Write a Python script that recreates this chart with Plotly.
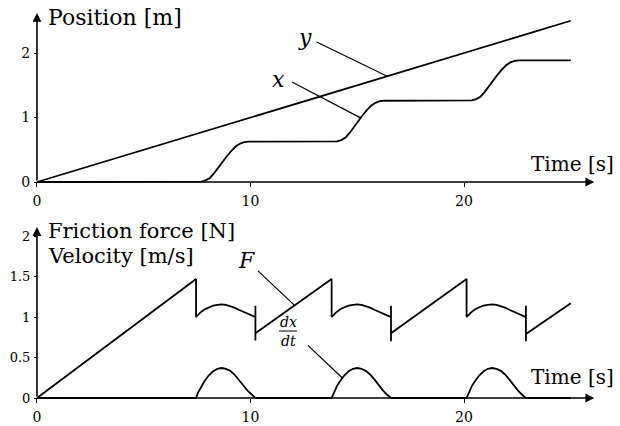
import plotly.graph_objects as go

# ---- data: spring-driven block with stick-slip friction ----
# top panel: positions [m]
t_y = [0.0, 25.0]
y_pos = [0.0, 2.5]

t_x = [0.0, 7.45, 7.70, 7.90, 8.10, 8.30, 8.50, 8.70, 8.90, 9.10, 9.30, 9.50, 9.70, 9.90,
       13.80, 14.05, 14.25, 14.45, 14.65, 14.85, 15.05, 15.25, 15.45, 15.65, 15.85, 16.05, 16.25,
       20.12, 20.37, 20.57, 20.77, 20.97, 21.17, 21.37, 21.57, 21.77, 21.97, 22.17, 22.37, 22.57,
       25.0]
x_pos = [0.0, 0.0, 0.005, 0.025, 0.063, 0.138, 0.231, 0.319, 0.403, 0.481, 0.550, 0.594, 0.619, 0.625,
         0.625, 0.630, 0.650, 0.689, 0.765, 0.860, 0.949, 1.035, 1.114, 1.184, 1.228, 1.254, 1.260,
         1.260, 1.265, 1.285, 1.323, 1.398, 1.491, 1.579, 1.663, 1.741, 1.810, 1.854, 1.879, 1.885,
         1.885]

# bottom panel: friction force [N]
t_f = [0.0, 7.45, 7.45,
       7.65, 7.85, 8.05, 8.25, 8.45, 8.65, 8.85, 9.05, 9.25, 9.45, 9.65, 9.85, 10.05, 10.23,
       10.23, 10.23, 10.23, 13.80, 13.80,
       14.00, 14.20, 14.40, 14.60, 14.80, 15.00, 15.20, 15.40, 15.60, 15.80, 16.00, 16.20, 16.40, 16.58,
       16.58, 16.58, 16.58, 20.12, 20.12,
       20.32, 20.52, 20.72, 20.92, 21.12, 21.32, 21.52, 21.72, 21.92, 22.12, 22.32, 22.52, 22.72, 22.90,
       22.90, 22.90, 22.90, 25.0]
f_val = [0.0, 1.47, 1.0,
         1.055, 1.095, 1.12, 1.14, 1.15, 1.155, 1.15, 1.135, 1.115, 1.09, 1.065, 1.04, 1.015, 1.0,
         1.14, 0.71, 0.80, 1.47, 1.0,
         1.055, 1.095, 1.12, 1.14, 1.15, 1.155, 1.15, 1.135, 1.115, 1.09, 1.065, 1.04, 1.015, 1.0,
         1.14, 0.70, 0.80, 1.47, 1.0,
         1.055, 1.095, 1.12, 1.14, 1.15, 1.155, 1.15, 1.135, 1.115, 1.09, 1.065, 1.04, 1.015, 1.0,
         1.14, 0.70, 0.79, 1.17]

# bottom panel: velocity dx/dt [m/s]
t_v = [0.0,
       7.45, 7.55, 7.70, 7.85, 8.05, 8.25, 8.45, 8.65, 8.85, 9.05, 9.25, 9.45, 9.65, 9.85, 10.05, 10.23,
       13.80, 13.90, 14.05, 14.20, 14.40, 14.60, 14.80, 15.00, 15.20, 15.40, 15.60, 15.80, 16.00, 16.20, 16.40, 16.58,
       20.12, 20.22, 20.37, 20.52, 20.72, 20.92, 21.12, 21.32, 21.52, 21.72, 21.92, 22.12, 22.32, 22.52, 22.72, 22.90,
       25.0]
v_val = [0.0,
         0.0, 0.07, 0.15, 0.21, 0.28, 0.33, 0.36, 0.37, 0.36, 0.335, 0.29, 0.23, 0.16, 0.095, 0.04, 0.0,
         0.0, 0.07, 0.15, 0.21, 0.28, 0.33, 0.36, 0.37, 0.36, 0.335, 0.29, 0.23, 0.16, 0.095, 0.04, 0.0,
         0.0, 0.07, 0.15, 0.21, 0.28, 0.33, 0.36, 0.37, 0.36, 0.335, 0.29, 0.23, 0.16, 0.095, 0.04, 0.0,
         0.0]

x_ticks = [0, 10, 20]
x_tick_text = ["0", "10", "20"]
pos_ticks = [0, 1, 2]
pos_tick_text = ["0", "1", "2"]
frc_ticks = [0, 0.5, 1, 1.5, 2]
frc_tick_text = ["0", "0.5", "1", "1.5", "2"]

# ---- layout geometry ----
W, H = 620, 426
SERIF = "DejaVu Serif"
INK = "black"

fig = go.Figure()

line_style = dict(color=INK, width=1.8)
fig.add_trace(go.Scatter(x=t_y, y=y_pos, mode="lines", line=line_style, xaxis="x", yaxis="y",
                         hoverinfo="skip"))
fig.add_trace(go.Scatter(x=t_x, y=x_pos, mode="lines", line=line_style, xaxis="x", yaxis="y",
                         hoverinfo="skip"))
fig.add_trace(go.Scatter(x=t_f, y=f_val, mode="lines", line=line_style, xaxis="x2", yaxis="y2",
                         hoverinfo="skip"))
fig.add_trace(go.Scatter(x=t_v, y=v_val, mode="lines", line=line_style, xaxis="x2", yaxis="y2",
                         hoverinfo="skip"))

x_range = [-0.5, 26.5]
x_dom = [26.3 / W, 602.8 / W]

tick_font = dict(family=SERIF, size=14, color=INK)
common_x = dict(range=x_range, domain=x_dom, showgrid=False, zeroline=False, showline=False,
                ticks="outside", ticklen=4, tickwidth=1, tickcolor=INK,
                tickvals=x_ticks, ticktext=x_tick_text, tickfont=tick_font,
                ticklabelstandoff=2, anchor="free")
common_y = dict(showgrid=False, zeroline=False, showline=False, ticks="outside", ticklen=3,
                tickwidth=1, tickcolor=INK, anchor="free", position=37 / W,
                ticklabelstandoff=1)

fig.update_layout(
    width=W, height=H,
    margin=dict(l=0, r=0, t=0, b=0),
    paper_bgcolor="white", plot_bgcolor="rgba(0,0,0,0)",
    font=dict(family=SERIF, color=INK),
    showlegend=False,
    xaxis=dict(**common_x, position=1 - 182 / H),
    yaxis=dict(**common_y, range=[-0.1, 2.7], domain=[1 - 188.45 / H, 1 - 7.85 / H],
               tickvals=pos_ticks, ticktext=pos_tick_text, tickfont=tick_font),
    xaxis2=dict(**common_x, position=1 - 398 / H),
    yaxis2=dict(**common_y, range=[-0.1, 2.2], domain=[1 - 406.1 / H, 1 - 219.8 / H],
                tickvals=frc_ticks, ticktext=frc_tick_text,
                tickfont=dict(family=SERIF, size=13, color=INK)),
)

# axis lines with arrow heads
def axis_arrow(xr, yr, tip, tail):
    fig.add_annotation(x=tip[0], y=tip[1], ax=tail[0], ay=tail[1], xref=xr, yref=yr,
                       axref=xr, ayref=yr, text="", showarrow=True, arrowhead=2,
                       arrowsize=1.1, arrowwidth=1.6, arrowcolor=INK)

axis_arrow("x", "y", (26.1, 0), (0, 0))
axis_arrow("x", "y", (0, 2.62), (0, 0))
axis_arrow("x2", "y2", (26.1, 0), (0, 0))
axis_arrow("x2", "y2", (0, 2.11), (0, 0))

# axis titles
def paper_text(txt, px, py, size=22, italic=False, anchor="left"):
    if italic:
        txt = "<i>" + txt + "</i>"
    fig.add_annotation(x=px / W, y=1 - py / H, xref="paper", yref="paper", text=txt,
                       showarrow=False, xanchor=anchor, yanchor="middle",
                       font=dict(family=SERIF, size=size, color=INK))

paper_text("Position [m]", 46, 18, size=22)
paper_text("Time [s]", 616, 164, size=20, anchor="right")
paper_text("Friction force [N]", 46, 231, size=21)
paper_text("Velocity [m/s]", 46, 256, size=21)
paper_text("Time [s]", 616, 377, size=20, anchor="right")

# curve labels with leader lines
leader = dict(color=INK, width=1.2)
fig.add_shape(type="line", xref="x", yref="y", x0=13.1, y0=2.17, x1=16.4, y1=1.64, line=leader)
fig.add_shape(type="line", xref="x", yref="y", x0=11.94, y0=1.55, x1=15.18, y1=0.99, line=leader)
fig.add_shape(type="line", xref="x2", yref="y2", x0=10.35, y0=1.57, x1=12.04, y1=1.15, line=leader)
fig.add_shape(type="line", xref="x2", yref="y2", x0=12.69, y0=0.65, x1=14.29, y1=0.25, line=leader)

paper_text("y", 305, 37, size=22, italic=True, anchor="center")
paper_text("x", 278, 79, size=22, italic=True, anchor="center")
paper_text("F", 246, 260, size=22, italic=True, anchor="center")
paper_text("dx", 288, 322, size=14, italic=True, anchor="center")
paper_text("dt", 288, 341, size=14, italic=True, anchor="center")
fig.add_shape(type="line", xref="paper", yref="paper", x0=279 / W, x1=297 / W,
              y0=1 - 331 / H, y1=1 - 331 / H, line=dict(color=INK, width=1))

fig.write_html("out.html")
